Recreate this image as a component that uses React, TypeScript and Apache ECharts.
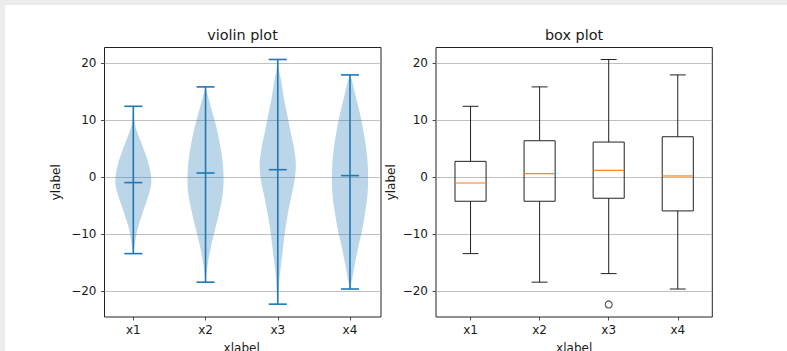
import React, { useEffect, useRef } from 'react';
import * as echarts from 'echarts';

const categories = ['x1', 'x2', 'x3', 'x4'];
const yTicks = [-20, -10, 0, 10, 20];

// violin plot
const violinMin = [-13.4, -18.4, -22.25, -19.6];
const violinMax = [12.4, 15.8, 20.6, 17.9];
const violinMean = [-0.96, 0.72, 1.3, 0.26];
const violinDensityY = [
  [-13.4, -12.2, -9.3, -6.4, -3.5, -0.8, 2.3, 5.2, 8.1, 10, 12.4],
  [-18.4, -15.1, -12.2, -9.3, -6.4, -3.5, -0.6, 2.3, 5.2, 8.1, 11, 14, 15.8],
  [-22.25, -20.9, -18, -15.1, -12.2, -9.3, -6.4, -3.5, -0.6, 2.3, 5.2, 8.1, 11, 14, 16.9, 18.5, 20.6],
  [-19.6, -18, -15.1, -12.2, -9.3, -6.4, -3.5, -0.6, 2.3, 5.2, 8.1, 11, 14, 16.9, 17.9],
];
const violinDensityW = [
  [0, 0.07, 0.22, 0.5, 0.81, 1.0, 0.85, 0.54, 0.19, 0.05, 0],
  [0, 0.13, 0.3, 0.52, 0.74, 0.93, 1.0, 0.96, 0.83, 0.65, 0.41, 0.15, 0],
  [0, 0.04, 0.09, 0.19, 0.3, 0.41, 0.56, 0.74, 0.93, 1.0, 0.89, 0.7, 0.52, 0.33, 0.19, 0.08, 0],
  [0, 0.11, 0.28, 0.46, 0.67, 0.83, 0.96, 1.0, 0.98, 0.89, 0.74, 0.56, 0.33, 0.11, 0],
];

// box plot
const boxLow = [-13.4, -18.4, -16.9, -19.6];
const boxQ1 = [-4.23, -4.23, -3.7, -5.92];
const boxMedian = [-1.03, 0.6, 1.19, 0.2];
const boxQ3 = [2.76, 6.37, 6.14, 7.07];
const boxHigh = [12.4, 15.8, 20.6, 17.9];
const outlierCategory = [2];
const outlierValue = [-22.3];

const FONT = 'DejaVu Sans';
const TEXT = '#1a1a1a';
const BLUE = '#1f77b4';
const Y_MIN = -24.5;
const Y_MAX = 22.7;

const fmt = (v: number) => String(v).replace('-', '\u2212');

function yAxisCfg(gridIndex: number, nameGap: number) {
  return {
    gridIndex,
    type: 'value',
    min: Y_MIN,
    max: Y_MAX,
    name: 'ylabel',
    nameLocation: 'middle',
    nameGap,
    nameTextStyle: { fontSize: 12, color: TEXT, fontFamily: FONT },
    axisLine: { show: false, onZero: false },
    axisTick: { show: true, length: 3.5, customValues: yTicks, lineStyle: { color: '#222', width: 0.8 } },
    axisLabel: { customValues: yTicks, fontSize: 12, color: TEXT, fontFamily: FONT, margin: 8, formatter: (v: number) => fmt(v) },
    splitLine: { show: true, lineStyle: { color: '#b0b0b0', width: 0.8 } },
  };
}

function xCatCfg(gridIndex: number) {
  return {
    gridIndex,
    type: 'category',
    data: categories,
    boundaryGap: true,
    position: 'bottom',
    name: 'xlabel',
    nameLocation: 'middle',
    nameGap: 25,
    nameTextStyle: { fontSize: 12, color: TEXT, fontFamily: FONT },
    axisLine: { show: false, onZero: false },
    axisTick: { show: true, alignWithLabel: true, length: 3.5, lineStyle: { color: '#222', width: 0.8 } },
    axisLabel: { fontSize: 12, color: TEXT, fontFamily: FONT, margin: 7 },
    splitLine: { show: false },
  };
}

export default function App() {
  const ref = useRef<HTMLDivElement>(null);
  useEffect(() => {
    if (!ref.current) return;
    const chart = echarts.init(ref.current, null, { renderer: 'svg' });
    const gridBase = { containLabel: false, outerBoundsMode: 'none' };
    const option: any = {
      animation: false,
      backgroundColor: '#ffffff',
      textStyle: { fontFamily: FONT },
      graphic: [
        { type: 'rect', shape: { x: 0, y: 0, width: 787, height: 5 }, style: { fill: '#ececec' }, silent: true },
        { type: 'rect', shape: { x: 0, y: 0, width: 5, height: 351 }, style: { fill: '#ececec' }, silent: true },
        {
          type: 'text', x: 242.5, y: 34.5,
          style: { text: 'violin plot', align: 'center', verticalAlign: 'middle', textAlign: 'center', textVerticalAlign: 'middle', fontSize: 14.4, fontFamily: FONT, fill: TEXT },
        },
        {
          type: 'text', x: 574, y: 34.5,
          style: { text: 'box plot', align: 'center', verticalAlign: 'middle', textAlign: 'center', textVerticalAlign: 'middle', fontSize: 14.4, fontFamily: FONT, fill: TEXT },
        },
      ],
      grid: [
        { ...gridBase, left: 104.5, top: 47.5, width: 276.5, height: 269.5, show: true, borderColor: '#222', borderWidth: 1, backgroundColor: 'transparent' },
        { ...gridBase, left: 97.2, top: 47.5, width: 288.9, height: 269.5, show: false },
        { ...gridBase, left: 436, top: 47.5, width: 276.3, height: 269.5, show: true, borderColor: '#222', borderWidth: 1, backgroundColor: 'transparent' },
      ],
      xAxis: [
        { gridIndex: 0, type: 'value', min: 0, max: 1, show: false },
        xCatCfg(1),
        xCatCfg(2),
      ],
      yAxis: [
        yAxisCfg(0, 43),
        { gridIndex: 1, type: 'value', min: Y_MIN, max: Y_MAX, show: false },
        yAxisCfg(2, 39),
      ],
      series: [
        {
          type: 'custom',
          xAxisIndex: 1,
          yAxisIndex: 1,
          clip: false,
          data: categories.map((c, i) => [i, violinMin[i], violinMax[i]]),
          renderItem: (params: any, api: any) => {
            const i = params.dataIndex;
            const band = api.size([1, 0])[0];
            const half = band * 0.25;
            const capHalf = band * 0.125;
            const cx = api.coord([i, 0])[0];
            const ys = violinDensityY[i];
            const ws = violinDensityW[i];
            const right = ys.map((v, k) => [cx + ws[k] * half, api.coord([i, v])[1]]);
            const left = ys.map((v, k) => [cx - ws[k] * half, api.coord([i, v])[1]]).reverse();
            const pts = right.concat(left);
            const yMin = api.coord([i, violinMin[i]])[1];
            const yMax = api.coord([i, violinMax[i]])[1];
            const yMean = api.coord([i, violinMean[i]])[1];
            const ls = { stroke: BLUE, lineWidth: 1.6 };
            return {
              type: 'group',
              children: [
                { type: 'polygon', shape: { points: pts, smooth: 0.35 }, style: { fill: 'rgba(31,119,180,0.3)' } },
                { type: 'line', shape: { x1: cx, y1: yMin, x2: cx, y2: yMax }, style: ls },
                { type: 'line', shape: { x1: cx - capHalf, y1: yMin, x2: cx + capHalf, y2: yMin }, style: ls },
                { type: 'line', shape: { x1: cx - capHalf, y1: yMax, x2: cx + capHalf, y2: yMax }, style: ls },
                { type: 'line', shape: { x1: cx - capHalf, y1: yMean, x2: cx + capHalf, y2: yMean }, style: ls },
              ],
            };
          },
        },
        {
          type: 'custom',
          xAxisIndex: 2,
          yAxisIndex: 2,
          clip: false,
          data: categories.map((c, i) => [i, boxLow[i], boxQ1[i], boxMedian[i], boxQ3[i], boxHigh[i]]),
          renderItem: (params: any, api: any) => {
            const i = params.dataIndex;
            const band = api.size([1, 0])[0];
            const bh = band * 0.225;
            const ch = band * 0.115;
            const cx = api.coord([i, 0])[0];
            const yl = api.coord([i, boxLow[i]])[1];
            const y1 = api.coord([i, boxQ1[i]])[1];
            const ym = api.coord([i, boxMedian[i]])[1];
            const y3 = api.coord([i, boxQ3[i]])[1];
            const yh = api.coord([i, boxHigh[i]])[1];
            const ls = { stroke: '#222', lineWidth: 1 };
            return {
              type: 'group',
              children: [
                { type: 'rect', shape: { x: cx - bh, y: y3, width: bh * 2, height: y1 - y3 }, style: { fill: 'none', stroke: '#222', lineWidth: 1 } },
                { type: 'line', shape: { x1: cx, y1: y1, x2: cx, y2: yl }, style: ls },
                { type: 'line', shape: { x1: cx, y1: y3, x2: cx, y2: yh }, style: ls },
                { type: 'line', shape: { x1: cx - ch, y1: yl, x2: cx + ch, y2: yl }, style: ls },
                { type: 'line', shape: { x1: cx - ch, y1: yh, x2: cx + ch, y2: yh }, style: ls },
                { type: 'line', shape: { x1: cx - bh, y1: ym, x2: cx + bh, y2: ym }, style: { stroke: '#ff7f0e', lineWidth: 1.2 } },
              ],
            };
          },
        },
        {
          type: 'scatter',
          xAxisIndex: 2,
          yAxisIndex: 2,
          symbol: 'circle',
          symbolSize: 7,
          itemStyle: { color: 'rgba(0,0,0,0)', borderColor: '#222', borderWidth: 1.1 },
          data: outlierCategory.map((c, k) => [c, outlierValue[k]]),
        },
      ],
    };
    chart.setOption(option);
    return () => chart.dispose();
  }, []);
  return <div ref={ref} style={{ position: 'fixed', left: 0, top: 0, width: 787, height: 351 }} />;
}
